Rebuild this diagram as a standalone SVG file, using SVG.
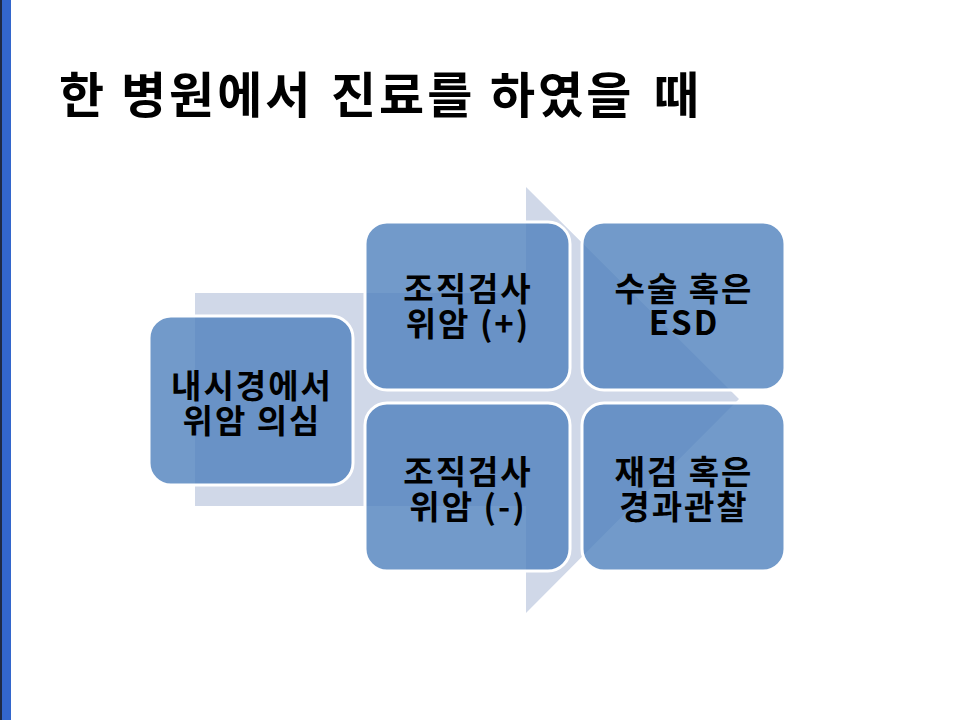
<svg xmlns="http://www.w3.org/2000/svg" width="960" height="720" viewBox="0 0 960 720">
  <style>
    .title { font-family: "Noto Sans CJK KR", "Noto Sans", sans-serif; font-weight: bold; font-size: 49px; letter-spacing: 3px; fill: #000000; }
    .node rect { fill: #4F81BD; fill-opacity: 0.8; stroke: #FFFFFF; stroke-width: 3; }
    .node text { font-family: "Noto Sans CJK KR", "Noto Sans", sans-serif; font-weight: bold; font-size: 33px; letter-spacing: 2px; fill: #000000; text-anchor: middle; }
    .arrow { fill: #D0D8E8; }
  </style>
  <rect x="0" y="0" width="960" height="720" fill="#FFFFFF"/>
  <rect x="0" y="0" width="2" height="720" fill="#1F2A44"/>
  <rect x="2" y="0" width="9" height="720" fill="#3366CC"/>

  <text class="title" y="113"><tspan x="59">한</tspan><tspan x="121">병원에서</tspan><tspan x="331">진료를</tspan><tspan x="490">하였을</tspan><tspan x="654">때</tspan></text>

  <g id="connectors">
    <polygon class="arrow" points="195,293 526,293 526,187 739,399 526,613 526,506 195,506"/>
  </g>

  <g id="node-suspect" class="node">
    <rect x="149" y="316" width="204" height="169" rx="22" ry="22"/>
    <text x="251" y="398"><tspan x="252">내시경에서</tspan><tspan x="252" dy="35">위암 의심</tspan></text>
  </g>
  <g id="node-biopsy-pos" class="node">
    <rect x="365" y="222" width="205" height="168" rx="22" ry="22"/>
    <text x="467" y="301"><tspan x="468">조직검사</tspan><tspan x="468" dy="35">위암 (+)</tspan></text>
  </g>
  <g id="node-biopsy-neg" class="node">
    <rect x="365" y="403" width="205" height="168" rx="22" ry="22"/>
    <text x="467" y="484"><tspan x="468">조직검사</tspan><tspan x="468" dy="35">위암 (-)</tspan></text>
  </g>
  <g id="node-surgery" class="node">
    <rect x="582" y="222" width="203" height="168" rx="22" ry="22"/>
    <text x="683" y="301"><tspan x="684">수술 혹은</tspan><tspan x="684" dy="34">ESD</tspan></text>
  </g>
  <g id="node-followup" class="node">
    <rect x="582" y="403" width="203" height="168" rx="22" ry="22"/>
    <text x="683" y="484"><tspan x="684">재검 혹은</tspan><tspan x="684" dy="35">경과관찰</tspan></text>
  </g>
</svg>
